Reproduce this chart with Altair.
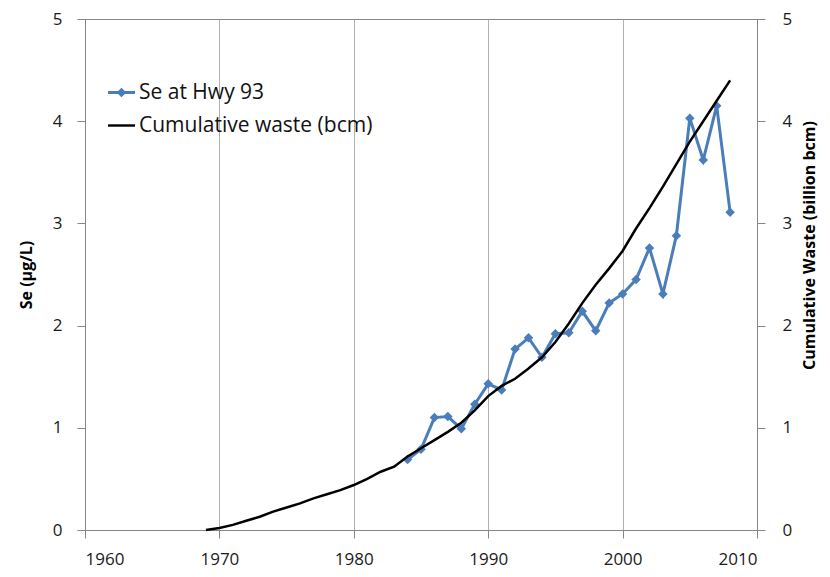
import altair as alt
import pandas as pd

# ---- data ----
se_years = list(range(1984, 2009))
se_values = [0.69, 0.79, 1.10, 1.11, 0.99, 1.23, 1.43, 1.37, 1.77, 1.88,
             1.69, 1.92, 1.93, 2.14, 1.95, 2.22, 2.31, 2.45, 2.76, 2.31,
             2.88, 4.03, 3.62, 4.15, 3.11]

waste_years = list(range(1969, 2009))
waste_values = [0.00, 0.02, 0.05, 0.09, 0.13, 0.18, 0.22, 0.26, 0.31, 0.35,
                0.39, 0.44, 0.50, 0.57, 0.62, 0.72, 0.80, 0.88, 0.96, 1.05,
                1.17, 1.31, 1.41, 1.48, 1.58, 1.69, 1.84, 2.02, 2.22, 2.40,
                2.56, 2.73, 2.95, 3.15, 3.36, 3.58, 3.80, 4.00, 4.20, 4.40]

series_labels = ["Se at Hwy 93", "Cumulative waste (bcm)"]
x_ticks = [1960, 1970, 1980, 1990, 2000, 2010]
y_ticks = [0, 1, 2, 3, 4, 5]

se_df = pd.DataFrame({"year": se_years, "value": se_values, "series": series_labels[0]})
waste_df = pd.DataFrame({"year": waste_years, "value": waste_values, "series": series_labels[1]})

FONT = "Open Sans"
BLUE = "#4a7ebb"
AXIS_GRAY = "#868686"

se_symbol = "M-1,-0.11H1V0.11H-1ZM0,-0.36L0.36,0L0,0.36L-0.36,0Z"
line_symbol = "M-1,-0.09H1V0.09H-1Z"

x_enc = alt.X(
    "year:Q",
    scale=alt.Scale(domain=[1960, 2010], nice=False),
    axis=alt.Axis(values=x_ticks, format="d", title=None, grid=True,
                  gridColor="#b0b0b0", labelPadding=13),
)
y_scale = alt.Scale(domain=[0, 5], nice=False)
y_left = alt.Y(
    "value:Q", scale=y_scale,
    axis=alt.Axis(values=y_ticks, orient="left", title="Se (µg/L)", grid=False,
                  labelPadding=15, titleX=-59, titleY=255.5, titleAngle=270,
                  titleBaseline="middle", titleAlign="center"),
)
y_right = alt.Y(
    "value:Q", scale=y_scale,
    axis=alt.Axis(values=y_ticks, orient="right", title="Cumulative Waste (billion bcm)",
                  grid=False, labelPadding=17, titleX=52, titleY=226, titleAngle=270,
                  titleBaseline="middle", titleAlign="center"),
)

legend_props = dict(
    title=None, orient="none", legendX=23, legendY=60, padding=0,
    symbolSize=729, symbolStrokeWidth=0, symbolOpacity=1,
    labelFont=FONT, labelFontSize=21, labelColor="#111111", labelLimit=500,
    labelOffset=4, rowPadding=9,
)

se_line = alt.Chart(se_df).mark_line(color=BLUE, strokeWidth=3).encode(x=x_enc, y=y_left)
se_pts = alt.Chart(se_df).mark_point(
    shape="diamond", filled=True, color=BLUE, size=90, opacity=1
).encode(x=x_enc, y=y_left)
legend_layer = alt.Chart(se_df).transform_filter("datum.year < 0").mark_point(
    filled=True, opacity=1, size=729
).encode(
    x=x_enc, y=y_left,
    color=alt.Color("series:N", scale=alt.Scale(domain=series_labels, range=[BLUE, "#000000"]),
                    legend=alt.Legend(**legend_props)),
    shape=alt.Shape("series:N", scale=alt.Scale(domain=series_labels, range=[se_symbol, line_symbol]),
                    legend=alt.Legend(**legend_props)),
)
left = alt.layer(se_line, se_pts, legend_layer)
waste_line = alt.Chart(waste_df).mark_line(color="#000000", strokeWidth=2.5).encode(x=x_enc, y=y_right)

chart = alt.layer(left, waste_line).resolve_scale(y="independent").properties(
    width=672, height=511, autosize="none",
    padding={"left": 77, "top": 11, "right": 65, "bottom": 39},
).configure_view(stroke=AXIS_GRAY, strokeWidth=1).configure_axis(
    labelFont=FONT, labelFontSize=17, labelColor="#1a1a1a",
    titleFont=FONT, titleFontSize=16, titleFontWeight="bold", titleColor="#000000",
    domainColor=AXIS_GRAY, tickColor=AXIS_GRAY, tickSize=8,
)

chart.save("out.html", embed_options={"renderer": "svg", "actions": False})
